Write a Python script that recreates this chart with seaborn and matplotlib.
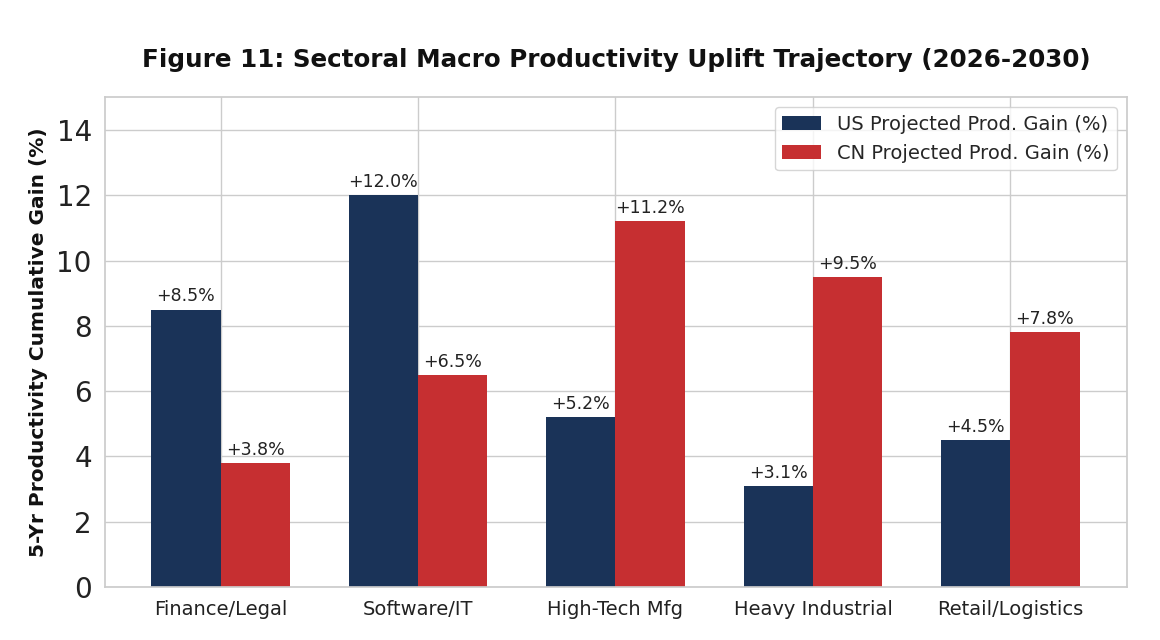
import pandas as pd
import seaborn as sns
import matplotlib.pyplot as plt

sectors = ['Finance/Legal', 'Software/IT', 'High-Tech Mfg', 'Heavy Industrial', 'Retail/Logistics']
us_gain = [8.5, 12.0, 5.2, 3.1, 4.5]
cn_gain = [3.8, 6.5, 11.2, 9.5, 7.8]
series = ['US Projected Prod. Gain (%)', 'CN Projected Prod. Gain (%)']
colors = ['#1a3358', '#c62f31']

df = pd.DataFrame({
    'Sector': sectors * 2,
    'Gain': us_gain + cn_gain,
    'Series': [series[0]] * len(sectors) + [series[1]] * len(sectors),
})

sns.set_theme(style='whitegrid')
plt.rcParams['font.family'] = ['DejaVu Sans']

fig = plt.figure(figsize=(11.6, 6.4), dpi=100)
ax = fig.add_axes([0.0905, 0.0828, 0.881, 0.765])

sns.barplot(data=df, x='Sector', y='Gain', hue='Series', palette=colors,
            width=0.7, linewidth=0, saturation=1, ax=ax)

# value labels on top of bars
for container in ax.containers:
    ax.bar_label(container, labels=[f'+{v:.1f}%' for v in container.datavalues],
                 padding=3, fontsize=12.5, color='#222222')

ax.set_xlim(-0.585, 4.59)
ax.set_ylim(0, 15)
ax.set_yticks(range(0, 15, 2))
ax.tick_params(axis='y', labelsize=20, labelcolor='#222222')
ax.tick_params(axis='x', labelsize=14, labelcolor='#222222')
ax.set_xlabel('')
ax.set_ylabel('5-Yr Productivity Cumulative Gain (%)', fontsize=14.5,
              fontweight='bold', labelpad=6, color='#111111')
ax.set_title('Figure 11: Sectoral Macro Productivity Uplift Trajectory (2026-2030)',
             fontsize=17.7, fontweight='bold', pad=22, color='#111111')
ax.xaxis.grid(True)
ax.legend(loc='upper right', fontsize=14, frameon=True, handlelength=2.0)

fig.savefig('out.png', dpi=100)
